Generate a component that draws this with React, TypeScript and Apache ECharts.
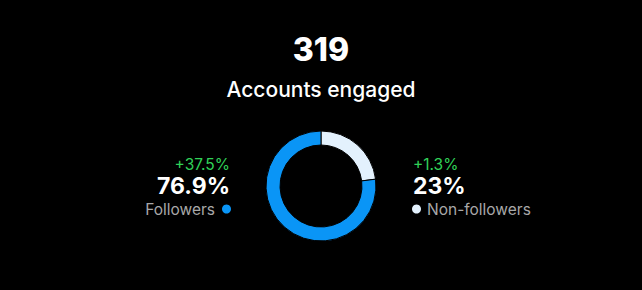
import React, { useEffect, useRef } from "react";
import * as echarts from "echarts";

const total = 319;
const totalLabel = "Accounts engaged";
const categories = ["Followers", "Non-followers"];
const shares = [76.9, 23];
const changes = ["+37.5%", "+1.3%"];
const shareLabels = ["76.9%", "23%"];
const colors = ["#0A95F6", "#E3F1FD"];

export default function App() {
  const ref = useRef<HTMLDivElement>(null);
  useEffect(() => {
    document.body.style.margin = "0";
    document.body.style.background = "#000";
    const chart = echarts.init(ref.current!, null, { renderer: "svg" });
    const font = "Inter, 'Noto Sans', sans-serif";
    chart.setOption({
      animation: false,
      backgroundColor: "#000000",
      series: [
        {
          type: "pie",
          center: [321, 186],
          radius: [41, 55],
          startAngle: 90,
          clockwise: true,
          label: { show: false },
          labelLine: { show: false },
          silent: true,
          itemStyle: { borderColor: "#000", borderWidth: 1 },
          data: [
            { name: categories[1], value: shares[1], itemStyle: { color: colors[1] } },
            { name: categories[0], value: shares[0], itemStyle: { color: colors[0] } },
          ],
        },
      ],
      graphic: [
        { type: "text", x: 321, y: 49, style: { text: String(total), fill: "#fff", font: `800 32px ${font}`, align: "center", verticalAlign: "middle" } },
        { type: "text", x: 321, y: 89, style: { text: totalLabel, fill: "#fff", font: `500 21px ${font}`, align: "center", verticalAlign: "middle" } },
        // left
        { type: "text", x: 230, y: 164, style: { text: changes[0], fill: "#30D158", font: `400 15.5px ${font}`, align: "right", verticalAlign: "middle" } },
        { type: "text", x: 230, y: 186, style: { text: shareLabels[0], fill: "#fff", font: `700 23px ${font}`, align: "right", verticalAlign: "middle" } },
        { type: "text", x: 215, y: 209, style: { text: categories[0], fill: "#A8A8A8", font: `400 15.5px ${font}`, align: "right", verticalAlign: "middle" } },
        { type: "circle", shape: { cx: 226.5, cy: 209, r: 4.5 }, style: { fill: colors[0] } },
        // right
        { type: "text", x: 413, y: 164, style: { text: changes[1], fill: "#30D158", font: `400 15.5px ${font}`, align: "left", verticalAlign: "middle" } },
        { type: "text", x: 413, y: 186, style: { text: shareLabels[1], fill: "#fff", font: `700 23px ${font}`, align: "left", verticalAlign: "middle" } },
        { type: "circle", shape: { cx: 416.5, cy: 209, r: 4.5 }, style: { fill: colors[1] } },
        { type: "text", x: 427, y: 209, style: { text: categories[1], fill: "#A8A8A8", font: `400 15.5px ${font}`, align: "left", verticalAlign: "middle" } },
      ],
    });
    return () => chart.dispose();
  }, []);
  return <div ref={ref} style={{ width: 642, height: 290, background: "#000" }} />;
}
